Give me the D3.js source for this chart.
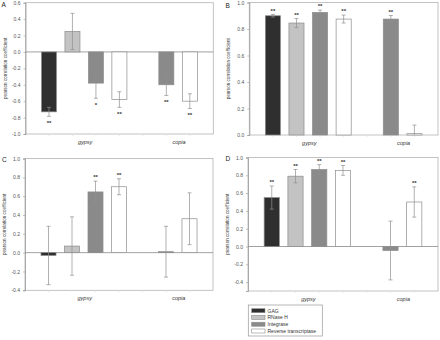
<html>
<head>
<meta charset="UTF-8">
<script src="https://d3js.org/d3.v7.min.js"></script>
<style>
  body { margin: 0; background: #fff; }
  text { font-family: "Liberation Sans", Arial, sans-serif; }
</style>
</head>
<body>
<svg id="fig" width="440" height="340"></svg>
<script>
// gene order + families
const genes = ['GAG', 'RNase H', 'Integrase', 'Reverse transcriptase'];
const copiaGenes = ['Integrase', 'Reverse transcriptase'];

// panel A
const gypsyA = [-0.73, 0.25, -0.38, -0.58];
const gypsyErrA = [0.055, 0.22, 0.185, 0.095];
const gypsySigA = ['**', '', '*', '**'];
const copiaA = [-0.40, -0.60];
const copiaErrA = [0.13, 0.09];
const copiaSigA = ['**', '**'];
const ticksA = ['0.6', '0.4', '0.2', '0.0', '-0.2', '-0.4', '-0.6', '-0.8', '-1.0'];

// panel B
const gypsyB = [0.90, 0.845, 0.925, 0.875];
const gypsyErrB = [0.01, 0.034, 0.018, 0.03];
const gypsySigB = ['**', '**', '**', '**'];
const copiaB = [0.875, 0.01];
const copiaErrB = [0.027, 0.065];
const copiaSigB = ['**', ''];
const ticksB = ['1.0', '0.8', '0.6', '0.4', '0.2', '0.0'];

// panel C
const gypsyC = [-0.03, 0.07, 0.645, 0.70];
const gypsyErrC = [0.31, 0.31, 0.115, 0.085];
const gypsySigC = ['', '', '**', '**'];
const copiaC = [0.01, 0.36];
const copiaErrC = [0.27, 0.275];
const copiaSigC = ['', ''];
const ticksC = ['1.0', '0.8', '0.6', '0.4', '0.2', '0.0', '-0.2', '-0.4'];

// panel D
const gypsyD = [0.55, 0.79, 0.865, 0.855];
const gypsyErrD = [0.13, 0.075, 0.055, 0.055];
const gypsySigD = ['**', '**', '**', '**'];
const copiaD = [-0.045, 0.50];
const copiaErrD = [0.33, 0.17];
const copiaSigD = ['', '**'];
const ticksD = ['1.0', '0.8', '0.6', '0.4', '0.2', '0.0', '-0.2', '-0.4'];

const fills = {'GAG': '#2f2f2f', 'RNase H': '#c3c3c3', 'Integrase': '#8a8a8a', 'Reverse transcriptase': '#ffffff'};

const svg = d3.select('#fig');

// slot keys along x: 4 gypsy bars, a gap, then the 2 copia bars
const slots = genes.map(g => 'gypsy|' + g).concat(['gap'], copiaGenes.map(g => 'copia|' + g));

function panel(opt) {
  const g = svg.append('g');
  const x = d3.scaleBand().domain(slots)
              .range([opt.left, opt.right])
              .paddingInner(0.36).paddingOuter(0.68);
  const y = d3.scaleLinear().domain(opt.domain).range([opt.bottom, opt.top]);

  // frame
  g.append('rect')
   .attr('x', opt.left).attr('y', opt.top)
   .attr('width', opt.right - opt.left).attr('height', opt.bottom - opt.top)
   .attr('fill', 'none').attr('stroke', '#b4b4b4').attr('stroke-width', 0.8);

  // y axis
  const yAxis = d3.axisLeft(y)
                  .tickValues(opt.ticks.map(Number))
                  .tickFormat((d, i) => opt.ticks[i])
                  .tickSize(2).tickPadding(3);
  const ya = g.append('g').attr('transform', `translate(${opt.left},0)`).call(yAxis);
  ya.select('.domain').attr('stroke', '#999').attr('stroke-width', 0.8);
  ya.selectAll('.tick line').attr('stroke', '#999').attr('stroke-width', 0.6);
  ya.selectAll('.tick text').attr('font-size', 5).attr('fill', '#555')
    .attr('font-family', '"Liberation Sans", Arial, sans-serif');

  // light ticks along bottom axis
  slots.forEach(s => {
    g.append('line')
     .attr('x1', x(s) + x.bandwidth() / 2).attr('x2', x(s) + x.bandwidth() / 2)
     .attr('y1', opt.bottom - 0.5).attr('y2', opt.bottom + 2)
     .attr('stroke', '#e2e2e2').attr('stroke-width', 0.8);
  });

  // zero line
  if (opt.domain[0] < 0) {
    g.append('line')
     .attr('x1', opt.left).attr('x2', opt.right)
     .attr('y1', y(0)).attr('y2', y(0))
     .attr('stroke', '#8a8a8a').attr('stroke-width', 0.8);
  }

  const rows = [];
  genes.forEach((gn, i) => rows.push({key: 'gypsy|' + gn, gene: gn, v: opt.gypsy[i], e: opt.gypsyErr[i], s: opt.gypsySig[i]}));
  copiaGenes.forEach((gn, i) => rows.push({key: 'copia|' + gn, gene: gn, v: opt.copia[i], e: opt.copiaErr[i], s: opt.copiaSig[i]}));

  // bars
  g.selectAll('rect.bar').data(rows).enter().append('rect')
   .attr('class', 'bar')
   .attr('x', d => x(d.key))
   .attr('width', x.bandwidth())
   .attr('y', d => y(Math.max(0, d.v)))
   .attr('height', d => Math.abs(y(d.v) - y(0)))
   .attr('fill', d => fills[d.gene])
   .attr('stroke', '#8c8c8c').attr('stroke-width', 0.7);

  // error bars
  rows.forEach(d => {
    const cx = x(d.key) + x.bandwidth() / 2;
    const lo = Math.max(opt.domain[0], d.v - d.e);
    const hi = d.v + d.e;
    g.append('line').attr('x1', cx).attr('x2', cx).attr('y1', y(lo)).attr('y2', y(hi))
     .attr('stroke', '#8f8f8f').attr('stroke-width', 0.7);
    [hi].concat(d.v - d.e >= opt.domain[0] ? [lo] : []).forEach(v => {
      g.append('line').attr('x1', cx - 2).attr('x2', cx + 2).attr('y1', y(v)).attr('y2', y(v))
       .attr('stroke', '#8f8f8f').attr('stroke-width', 0.7);
    });
    if (d.s) {
      const ty = d.v >= 0 ? y(hi) - 5 : y(d.v - d.e) + 5;
      g.append('text').attr('x', cx).attr('y', ty + 3.3)
       .attr('text-anchor', 'middle').attr('font-size', 6).attr('font-weight', 'bold')
       .attr('fill', '#333').text(d.s);
    }
  });

  // family labels
  const famX = fam => d3.mean(rows.filter(r => r.key.startsWith(fam)), r => x(r.key) + x.bandwidth() / 2);
  ['gypsy', 'copia'].forEach(f => {
    g.append('text').attr('x', famX(f) + 1).attr('y', opt.bottom + 10)
     .attr('text-anchor', 'middle').attr('font-size', 5.5).attr('font-style', 'italic')
     .attr('fill', '#333').text(f);
  });

  // y title
  g.append('text')
   .attr('transform', `translate(${opt.left - 19},${(opt.top + opt.bottom) / 2}) rotate(-90)`)
   .attr('text-anchor', 'middle').attr('font-size', 4.6).attr('fill', '#333')
   .text('pearson correlation coefficient');

  // panel letter
  g.append('text').attr('x', opt.lx).attr('y', opt.ly)
   .attr('font-size', 6.5).attr('fill', '#222').text(opt.letter);
}

panel({letter: 'A', lx: 1.5, ly: 7, left: 25.5, right: 213.3, top: 2.7, bottom: 134,
       domain: [-1, 0.6], ticks: ticksA,
       gypsy: gypsyA, gypsyErr: gypsyErrA, gypsySig: gypsySigA,
       copia: copiaA, copiaErr: copiaErrA, copiaSig: copiaSigA});
panel({letter: 'B', lx: 225.5, ly: 7.5, left: 249.3, right: 438, top: 2.5, bottom: 135,
       domain: [0, 1], ticks: ticksB,
       gypsy: gypsyB, gypsyErr: gypsyErrB, gypsySig: gypsySigB,
       copia: copiaB, copiaErr: copiaErrB, copiaSig: copiaSigB});
panel({letter: 'C', lx: 2, ly: 161.5, left: 25, right: 213, top: 158.5, bottom: 290.3,
       domain: [-0.4, 1], ticks: ticksC,
       gypsy: gypsyC, gypsyErr: gypsyErrC, gypsySig: gypsySigC,
       copia: copiaC, copiaErr: copiaErrC, copiaSig: copiaSigC});
panel({letter: 'D', lx: 225.5, ly: 161, left: 248, right: 438, top: 157.5, bottom: 291,
       domain: [-0.5, 1], ticks: ticksD,
       gypsy: gypsyD, gypsyErr: gypsyErrD, gypsySig: gypsySigD,
       copia: copiaD, copiaErr: copiaErrD, copiaSig: copiaSigD});

// legend
const leg = svg.append('g');
leg.append('rect').attr('x', 248.3).attr('y', 305).attr('width', 74).attr('height', 31)
   .attr('fill', '#fff').attr('stroke', '#999').attr('stroke-width', 0.7);
const ly = d3.scalePoint().domain(genes).range([310.7, 331]);
genes.forEach(gn => {
  leg.append('rect').attr('x', 251.7).attr('y', ly(gn) - 2).attr('width', 13.3).attr('height', 4)
     .attr('fill', fills[gn]).attr('stroke', '#8c8c8c').attr('stroke-width', 0.6);
  leg.append('text').attr('x', 267.5).attr('y', ly(gn) + 1.8)
     .attr('font-size', 5).attr('fill', '#333').text(gn);
});
</script>
</body>
</html>
